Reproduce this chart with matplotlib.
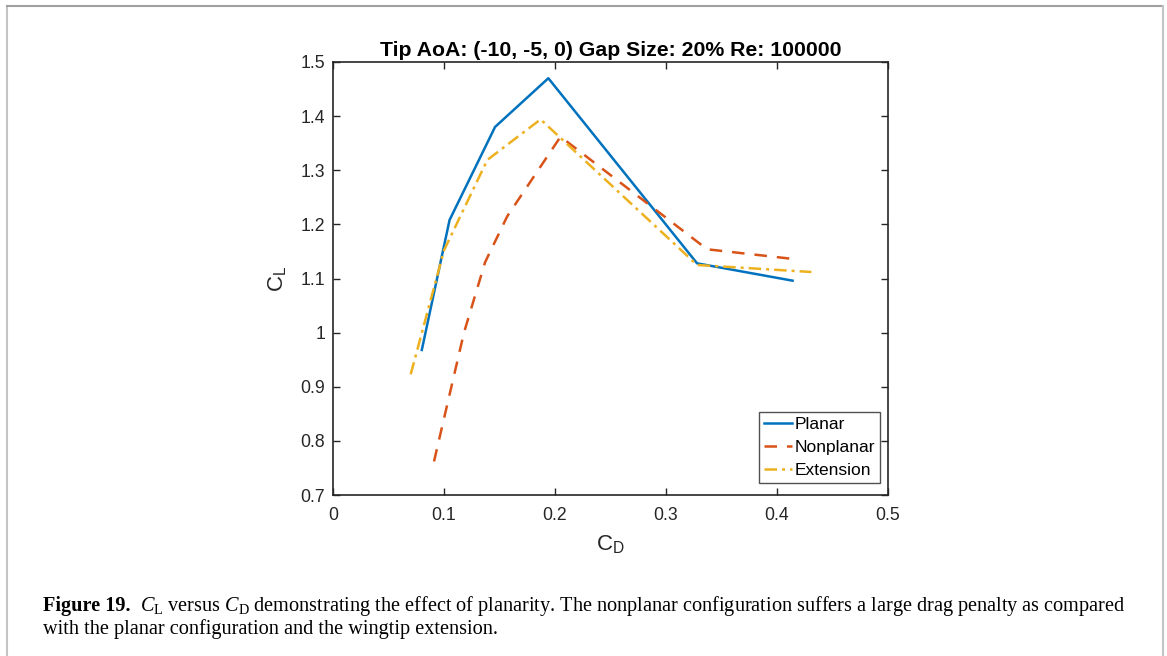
import matplotlib
matplotlib.use("Agg")
import matplotlib.pyplot as plt
from matplotlib.lines import Line2D

planar_cd = [0.080, 0.105, 0.146, 0.194, 0.328, 0.414]
planar_cl = [0.968, 1.208, 1.380, 1.470, 1.128, 1.096]

nonplanar_cd = [0.091, 0.118, 0.137, 0.157, 0.205, 0.337, 0.415]
nonplanar_cl = [0.762, 1.000, 1.130, 1.215, 1.362, 1.154, 1.136]

extension_cd = [0.070, 0.100, 0.139, 0.187, 0.328, 0.431]
extension_cl = [0.923, 1.152, 1.319, 1.394, 1.125, 1.112]

xticks = [0, 0.1, 0.2, 0.3, 0.4, 0.5]
yticks = [0.7, 0.8, 0.9, 1.0, 1.1, 1.2, 1.3, 1.4, 1.5]
xtick_labels = ["0", "0.1", "0.2", "0.3", "0.4", "0.5"]
ytick_labels = ["0.7", "0.8", "0.9", "1", "1.1", "1.2", "1.3", "1.4", "1.5"]

title = "Tip AoA: (-10, -5, 0) Gap Size: 20% Re: 100000"

plt.rcParams['font.family'] = ['Liberation Sans', 'DejaVu Sans']
plt.rcParams['mathtext.fontset'] = 'custom'
plt.rcParams['mathtext.rm'] = 'Liberation Serif'
plt.rcParams['mathtext.it'] = 'Liberation Serif:italic'
plt.rcParams['mathtext.bf'] = 'Liberation Serif:bold'

W, H = 1167, 656
fig = plt.figure(figsize=(W / 100, H / 100), dpi=100)

# page border
fig.add_artist(Line2D([7 / W, 7 / W], [0, 1 - 6 / H], transform=fig.transFigure, color='#c4c4c4', lw=1.5))
fig.add_artist(Line2D([7 / W, 1163 / W], [1 - 6 / H, 1 - 6 / H], transform=fig.transFigure, color='#a0a0a0', lw=1.5))
fig.add_artist(Line2D([1163 / W, 1163 / W], [0, 1 - 6 / H], transform=fig.transFigure, color='#c4c4c4', lw=1.5))

ax = fig.add_axes([333 / W, 1 - 495 / H, (888 - 333) / W, (495 - 62) / H])

blue = '#0072BD'
orange = '#D95319'
yellow = '#EDB120'

ax.plot(planar_cd, planar_cl, color=blue, lw=1.8, label='Planar')
ax.plot(nonplanar_cd, nonplanar_cl, color=orange, lw=1.8, ls=(0, (5, 4)), label='Nonplanar')
ax.plot(extension_cd, extension_cl, color=yellow, lw=1.8, ls=(0, (5, 2, 1.2, 2)), label='Extension')

ax.set_xlim(0, 0.5)
ax.set_ylim(0.7, 1.5)
ax.set_xticks(xticks)
ax.set_xticklabels(xtick_labels)
ax.set_yticks(yticks)
ax.set_yticklabels(ytick_labels)
ax.tick_params(direction='in', top=True, right=True, length=5, width=1, labelsize=12.7, colors='#262626')
ax.tick_params(axis='x', pad=9)
ax.tick_params(axis='y', pad=5.5)
for s in ax.spines.values():
    s.set_color('#262626')
    s.set_linewidth(1.2)

ax.set_title(title, fontsize=15.3, fontweight='bold', color='#000000', pad=4)
ax.set_xlabel(r'C$_\mathregular{D}$', fontsize=16, color='#262626', labelpad=6)
ax.set_ylabel(r'C$_\mathregular{L}$', fontsize=16, color='#262626', labelpad=9)

leg = ax.legend(loc='lower right', bbox_to_anchor=(0.9856, 0.0277), fontsize=12.5,
                frameon=True, fancybox=False, edgecolor='#262626',
                handlelength=1.6, handletextpad=0.15, borderpad=0.3,
                labelspacing=0.45, borderaxespad=0.0)
leg.get_frame().set_linewidth(1.0)

# caption
cap_font = ['Liberation Serif', 'DejaVu Serif']
fs = 14.6
x0 = 43 / W
y1 = 1 - 606 / H
y2 = 1 - 629 / H
t1 = fig.text(x0, y1, "Figure 19.", fontsize=fs, family=cap_font, weight='bold', va='center', ha='left')
fig.canvas.draw()
bb = t1.get_window_extent()
x1 = (bb.x1 + 10) / W
fig.text(x1, y1,
         "$\\it{C}_\\mathrm{L}$ versus $\\it{C}_\\mathrm{D}$ demonstrating the effect of planarity. "
         "The nonplanar configuration suffers a large drag penalty as compared",
         fontsize=fs, family=cap_font, va='center', ha='left')
fig.text(x0, y2,
         "with the planar configuration and the wingtip extension.",
         fontsize=fs, family=cap_font, va='center', ha='left')

fig.savefig('out.png', dpi=100)
